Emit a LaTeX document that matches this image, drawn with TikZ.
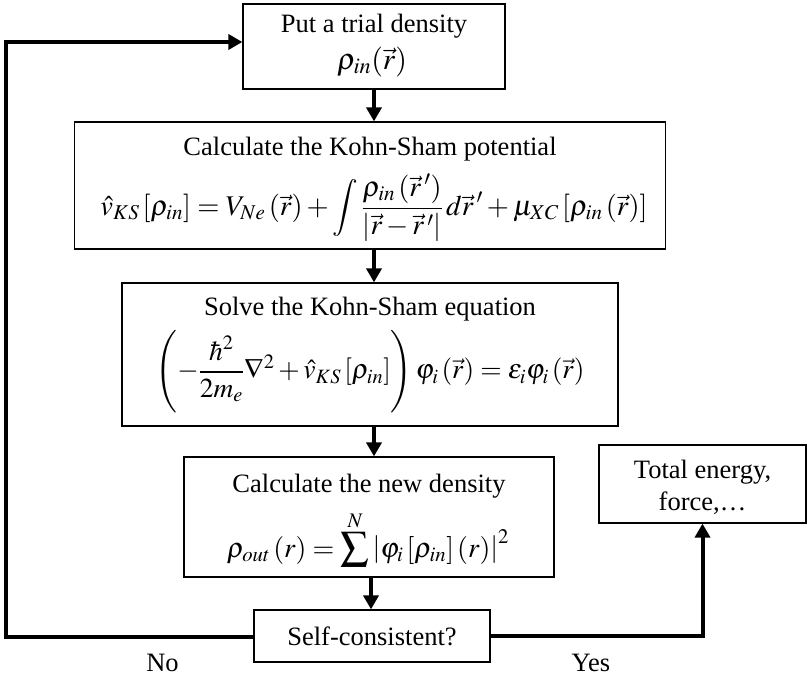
\documentclass[tikz,border=0pt]{standalone}
\usepackage{amsmath}
\usepackage{mathptmx}
\usepackage[no-math]{fontspec}
\setmainfont{Liberation Serif}
\usetikzlibrary{arrows.meta}
\tikzset{
  box/.style={draw, line width=1.2pt, inner sep=0pt},
  txt/.style={inner sep=0pt, anchor=base, font=\fontsize{26.5}{32}\selectfont},
  eq/.style={inner sep=0pt, font=\fontsize{#1}{32}\selectfont},
  flow/.style={line width=4pt, -{Triangle[width=15pt,length=14pt]}},
}
\begin{document}
\begin{tikzpicture}[x=1pt,y=-1pt]
\useasboundingbox (0,0) rectangle (807,674);
% boxes
\node[box, minimum width=262pt, minimum height=85pt] (b1) at (374,46.5) {};
\node[box, minimum width=591pt, minimum height=127pt] (b2) at (370,185.5) {};
\node[box, minimum width=496pt, minimum height=143pt] (b3) at (370,354.5) {};
\node[box, minimum width=370pt, minimum height=120pt] (b4) at (369,517) {};
\node[box, minimum width=236pt, minimum height=52pt] (b5) at (372,636) {};
\node[box, minimum width=207pt, minimum height=78pt] (b6) at (702.5,484) {};
% texts
\node[txt] (t1) at (374,33) {Put a trial density};
\node[eq=30] (m1) at (372,62) {$\rho_{in}(\vec r)$};
\node[txt] (t2) at (370,156) {Calculate the Kohn-Sham potential};
\node[eq=28.5] (m2) at (374,208) {$\hat v_{KS}\left[\rho_{in}\right] = V_{Ne}\left(\vec r\right) + \displaystyle\int \dfrac{\rho_{in}\left(\vec r\,'\right)}{\left|\vec r - \vec r\,'\right|}\, d\vec r\,' + \mu_{XC}\left[\rho_{in}\left(\vec r\right)\right]$};
\node[txt] (t3) at (370,316) {Solve the Kohn-Sham equation};
\node[eq=27.5] (m3) at (370,372) {$\left(-\dfrac{\hbar^2}{2m_e}\nabla^2 + \hat v_{KS}\left[\rho_{in}\right]\right)\varphi_i\left(\vec r\right) = \varepsilon_i\varphi_i\left(\vec r\right)$};
\node[eq=28, anchor=base] (m4) at (368,557) {$\rho_{out}\left(r\right) = \displaystyle\sum^{N}\left|\varphi_i\left[\rho_{in}\right]\left(r\right)\right|^2$};
\node[txt] (t4) at (369,492) {Calculate the new density};
\node[txt] (t5) at (372,645) {Self-consistent?};
\node[txt] (t6a) at (702.5,478) {Total energy,};
\node[txt] (t6b) at (702.5,510) {force,\dots};
\node[txt] (no) at (162.5,671) {No};
\node[txt] (yes) at (591,671) {Yes};
% connectors
\draw[flow] (b1.south) -- (b1.south |- b2.north);
\draw[flow] (b2.south -| b1.south) -- (b1.south |- b3.north);
\draw[flow] (b3.south -| b1.south) -- (b1.south |- b4.north);
\draw[flow] (b4.south -| 371,0) -- (b5.north -| 371,0);
\coordinate (cbl) at (6,637);
\coordinate (ctl) at (6,42);
\draw[flow] (b5.west |- cbl) -- (cbl) -- (ctl) -- (b1.west |- ctl);
\draw[flow] (b5.east) -| (b6.south);
\end{tikzpicture}
\end{document}
